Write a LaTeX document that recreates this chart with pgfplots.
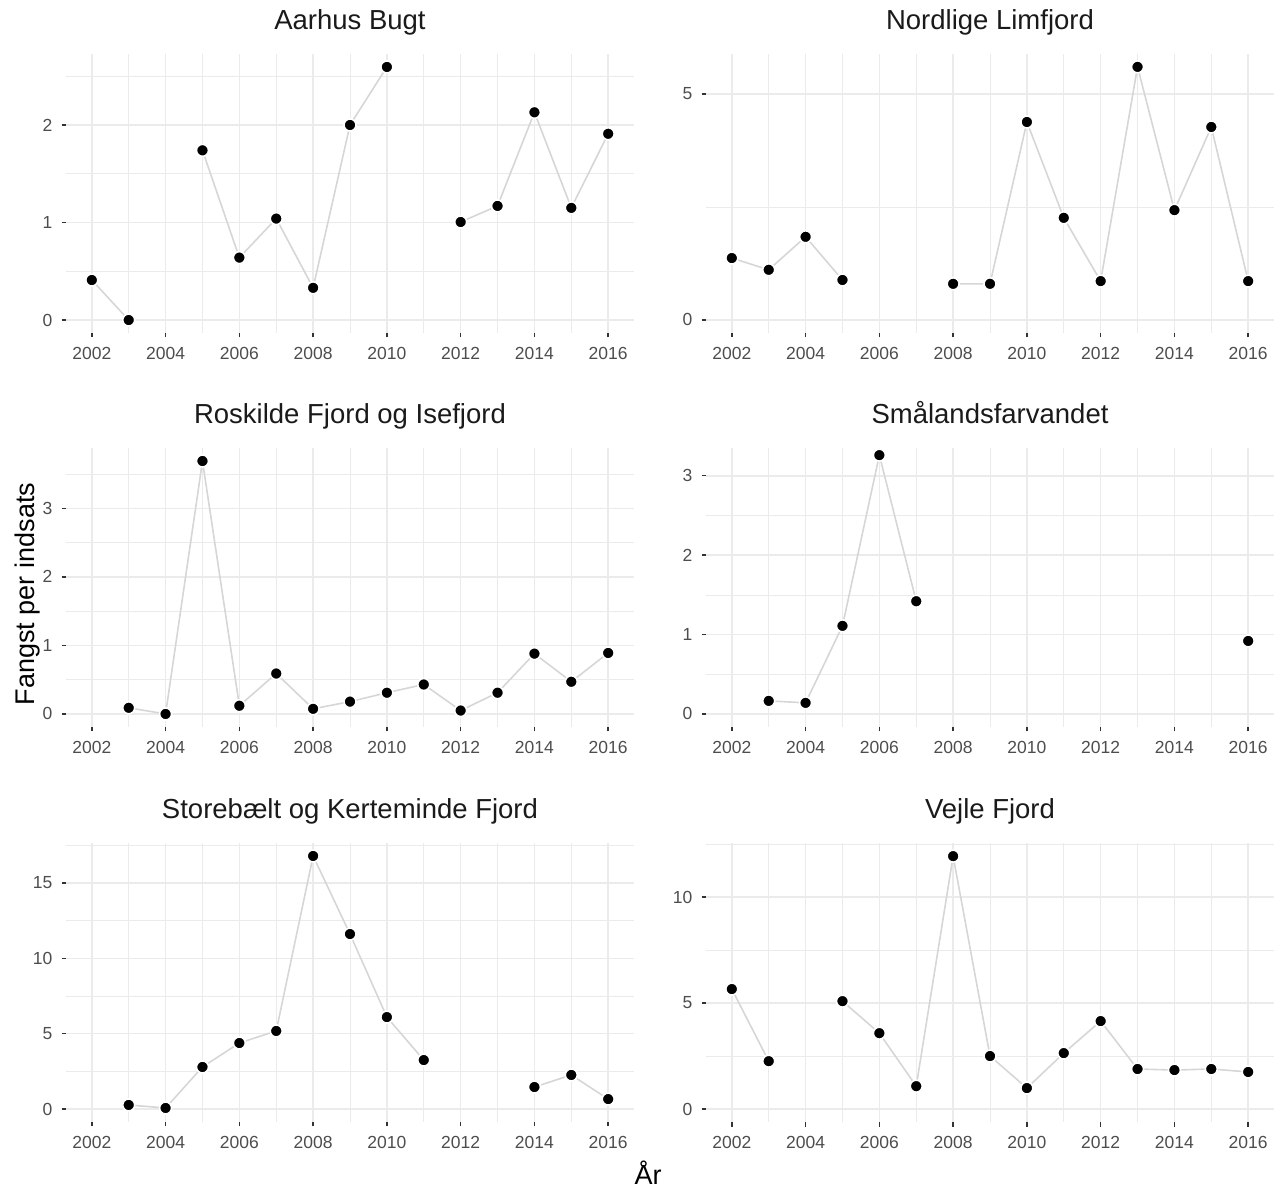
\documentclass[border=0pt]{standalone}
\usepackage{fontspec}
\setmainfont{Liberation Sans}
\usepackage{pgfplots}
\pgfplotsset{compat=1.18}
\definecolor{gridc}{HTML}{EBEBEB}
\definecolor{linec}{HTML}{D6D6D6}
\definecolor{tickc}{HTML}{333333}
\definecolor{labc}{HTML}{4D4D4D}
\definecolor{titc}{HTML}{1A1A1A}
\pgfplotsset{
 panel/.style={
  scale only axis, width=568bp, height=279bp, anchor=south west,
  xmin=2001.3, xmax=2016.7,
  xtick={2002,2004,...,2016}, minor xtick={2003,2005,...,2015},
  grid=both,
  major grid style={gridc, line width=1.5bp},
  minor grid style={gridc, line width=0.75bp},
  axis line style={draw=none},
  tick align=outside, xtick pos=bottom, ytick pos=left,
  major tick length=4.5bp, minor tick length=0pt,
  major tick style={tickc, line width=1.4bp},
  /pgf/number format/assume math mode=true,
  tick label style={font=\fontsize{17.5bp}{20bp}\selectfont, text=labc},
  x tick label style={/pgf/number format/1000 sep={}, anchor=north, inner sep=0pt, yshift=-10bp},
  y tick label style={anchor=east, inner sep=0pt, xshift=-9bp},
  title style={font=\fontsize{27.5bp}{33bp}\selectfont, text=titc, at={(0.5,1)}, anchor=base, yshift=19bp},
  unbounded coords=jump,
 },
 ser/.style={linec, line width=1.6bp, mark=*, mark size=6bp,
   mark options={fill=black, draw=white, line width=1.6bp}},
}
\begin{document}
\begin{tikzpicture}
\useasboundingbox (0,0) rectangle (1281bp,1189bp);
% Row 1
\begin{axis}[panel, at={(66bp,856bp)}, title={Aarhus Bugt},
  ymin=-0.133, ymax=2.728, ytick={0,1,2}, minor ytick={0.5,1.5,2.5}]
\addplot[ser] coordinates {(2002,0.41) (2003,0.0) (2004,nan) (2005,1.74) (2006,0.64) (2007,1.04) (2008,0.33) (2009,2.0) (2010,2.595) (2011,nan) (2012,1.005) (2013,1.17) (2014,2.13) (2015,1.15) (2016,1.91)};
\end{axis}
\begin{axis}[panel, at={(706bp,856bp)}, title={Nordlige Limfjord},
  ymin=-0.288, ymax=5.885, ytick={0,5}, minor ytick={2.5}]
\addplot[ser] coordinates {(2002,1.37) (2003,1.11) (2004,1.84) (2005,0.885) (2006,nan) (2007,nan) (2008,0.80) (2009,0.80) (2010,4.38) (2011,2.26) (2012,0.86) (2013,5.6) (2014,2.43) (2015,4.27) (2016,0.86)};
\end{axis}
% Row 2
\begin{axis}[panel, at={(66bp,462bp)}, title={Roskilde Fjord og Isefjord},
  ymin=-0.19, ymax=3.88, ytick={0,1,2,3}, minor ytick={0.5,1.5,2.5,3.5}]
\addplot[ser] coordinates {(2003,0.09) (2004,0.0) (2005,3.69) (2006,0.12) (2007,0.59) (2008,0.075) (2009,0.18) (2010,0.31) (2011,0.43) (2012,0.05) (2013,0.31) (2014,0.88) (2015,0.47) (2016,0.89)};
\end{axis}
\begin{axis}[panel, at={(706bp,462bp)}, title={Smålandsfarvandet},
  ymin=-0.164, ymax=3.35, ytick={0,1,2,3}, minor ytick={0.5,1.5,2.5}]
\addplot[ser] coordinates {(2003,0.165) (2004,0.14) (2005,1.11) (2006,3.26) (2007,1.42) (2008,nan) (2016,0.92)};
\end{axis}
% Row 3
\begin{axis}[panel, at={(66bp,67bp)}, title={Storebælt og Kerteminde Fjord},
  ymin=-0.86, ymax=17.65, ytick={0,5,10,15}, minor ytick={2.5,7.5,12.5,17.5}]
\addplot[ser] coordinates {(2003,0.27) (2004,0.07) (2005,2.79) (2006,4.38) (2007,5.18) (2008,16.79) (2009,11.61) (2010,6.1) (2011,3.25) (2012,nan) (2013,nan) (2014,1.46) (2015,2.26) (2016,0.66)};
\end{axis}
\begin{axis}[panel, at={(706bp,67bp)}, title={Vejle Fjord},
  ymin=-0.61, ymax=12.55, ytick={0,5,10}, minor ytick={2.5,7.5,12.5}]
\addplot[ser] coordinates {(2002,5.66) (2003,2.26) (2004,nan) (2005,5.09) (2006,3.58) (2007,1.08) (2008,11.93) (2009,2.5) (2010,0.99) (2011,2.64) (2012,4.15) (2013,1.89) (2014,1.84) (2015,1.89) (2016,1.75)};
\end{axis}
\node[rotate=90, anchor=center, font=\fontsize{27bp}{32bp}\selectfont] at (28bp,595bp) {Fangst per indsats};
\node[anchor=base, font=\fontsize{27bp}{32bp}\selectfont] at (648bp,5bp) {År};
\end{tikzpicture}
\end{document}
